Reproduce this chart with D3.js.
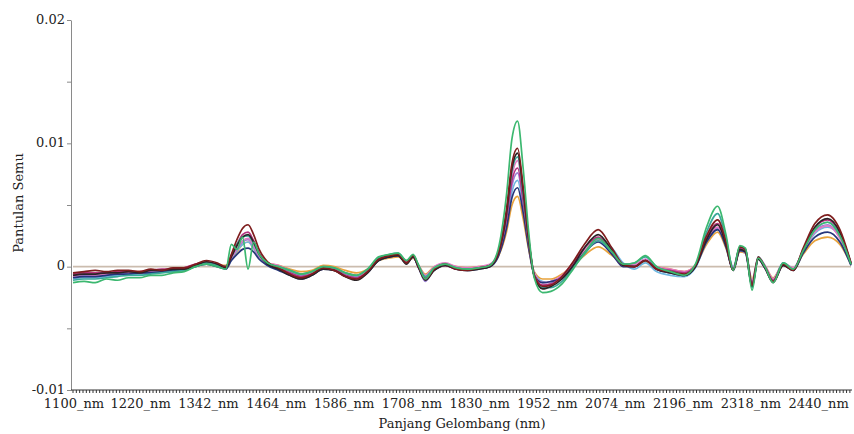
<!DOCTYPE html>
<html>
<head>
<meta charset="utf-8">
<script src="https://cdn.jsdelivr.net/npm/d3@7"></script>
<style>
  body { margin: 0; background: #fff; }
  svg { display: block; }
</style>
</head>
<body>
<svg id="chart" width="854" height="434"></svg>
<script>
const wavelengths = [1100,1120,1140,1160,1180,1200,1220,1240,1260,1280,1300,1320,1340,1360,1375,1385,1395,1405,1415,1425,1435,1450,1470,1490,1510,1530,1550,1570,1590,1610,1630,1650,1670,1685,1700,1712,1722,1734,1750,1770,1790,1810,1830,1850,1865,1880,1890,1900,1910,1920,1930,1945,1960,1980,2000,2020,2045,2070,2090,2110,2130,2150,2175,2200,2220,2240,2260,2275,2288,2300,2310,2322,2333,2345,2360,2378,2396,2414,2435,2458,2480,2500];

// values in units of 0.001
const orangeSeries = [-0.7,-0.6,-0.6,-0.5,-0.5,-0.4,-0.4,-0.3,-0.3,-0.2,-0.1,0.1,0.3,0.1,0.1,0.6,1.2,1.8,2.0,1.5,0.8,0.3,0.1,-0.2,-0.4,-0.3,0.1,0.0,-0.3,-0.5,-0.2,0.5,0.7,0.8,0.4,0.7,0.1,-0.6,0.0,0.2,0.0,-0.1,0.0,0.1,0.8,2.8,5.0,5.7,3.9,1.4,-0.4,-1.0,-1.0,-0.6,0.1,0.9,1.6,0.9,0.2,0.1,0.4,0.0,-0.2,-0.4,0.1,1.8,2.8,1.5,-0.1,1.2,1.1,-1.0,0.6,0.1,-0.9,0.2,-0.1,1.0,2.1,2.4,1.8,0.2];
const lightBlueSeries = [-1.0,-0.9,-0.9,-0.8,-0.7,-0.6,-0.6,-0.5,-0.4,-0.4,-0.2,0.1,0.2,0.0,-0.1,0.6,1.3,1.8,2.0,1.5,0.8,0.2,-0.1,-0.4,-0.7,-0.5,-0.1,-0.2,-0.6,-0.8,-0.3,0.5,0.8,0.9,0.3,0.8,0.0,-0.8,-0.1,0.2,-0.1,-0.2,-0.1,0.0,0.9,3.4,6.1,7.0,4.8,1.8,-0.5,-1.2,-1.3,-0.9,0.0,1.1,2.3,1.5,0.3,-0.2,0.3,-0.4,-0.7,-0.8,-0.1,2.0,3.0,1.8,0.0,1.5,1.4,-1.2,0.8,0.1,-1.0,0.3,-0.1,1.2,2.7,3.2,2.4,0.3];
const purpleSeries = [-0.8,-0.7,-0.7,-0.6,-0.6,-0.5,-0.5,-0.4,-0.3,-0.3,-0.2,0.1,0.3,0.1,-0.1,0.7,1.4,2.0,2.2,1.6,0.8,0.2,-0.1,-0.5,-0.8,-0.6,-0.2,-0.2,-0.7,-0.9,-0.4,0.6,0.8,0.9,0.3,0.8,-0.1,-1.2,-0.2,0.2,-0.1,-0.2,-0.1,0.1,1.0,3.7,6.6,7.6,5.2,1.8,-0.6,-1.3,-1.2,-0.8,0.2,1.2,2.1,1.1,0.1,0.1,0.6,-0.1,-0.3,-0.5,0.1,2.1,3.1,1.7,-0.3,1.3,1.1,-1.6,0.6,-0.1,-1.2,0.2,-0.2,1.3,2.9,3.4,2.4,0.2];
const pinkSeries = [-0.8,-0.6,-0.7,-0.6,-0.5,-0.4,-0.5,-0.3,-0.3,-0.2,-0.1,0.2,0.3,0.1,0.0,0.7,1.5,2.1,2.3,1.7,0.9,0.3,0.1,-0.3,-0.6,-0.5,0.0,-0.1,-0.5,-0.7,-0.3,0.6,0.8,0.9,0.4,0.8,0.1,-0.7,0.0,0.3,0.0,-0.1,0.0,0.2,1.1,4.2,7.4,8.6,5.8,2.1,-0.5,-1.3,-1.2,-0.7,0.3,1.3,2.2,1.1,0.2,0.2,0.6,0.0,-0.2,-0.4,0.1,2.1,3.2,1.7,-0.1,1.4,1.2,-1.2,0.7,0.1,-1.0,0.3,-0.1,1.2,2.8,3.3,2.3,0.2];
const navySeries = [-0.9,-0.8,-0.8,-0.7,-0.6,-0.6,-0.5,-0.5,-0.4,-0.3,-0.3,0.0,0.2,0.0,-0.2,0.5,1.0,1.4,1.5,1.2,0.6,0.1,-0.3,-0.7,-1.0,-0.7,-0.2,-0.3,-0.8,-1.0,-0.5,0.5,0.8,0.9,0.3,0.8,-0.1,-1.0,-0.3,0.1,-0.2,-0.3,-0.2,0.0,0.8,3.1,5.6,6.4,4.4,1.5,-0.7,-1.3,-1.2,-0.9,0.0,1.1,2.0,1.0,0.0,0.0,0.5,-0.2,-0.5,-0.7,0.0,2.0,3.0,1.6,-0.3,1.3,1.2,-1.4,0.6,-0.1,-1.2,0.1,-0.3,1.1,2.4,2.8,2.0,0.1];
const magentaSeries = [-0.6,-0.5,-0.5,-0.5,-0.4,-0.4,-0.4,-0.3,-0.2,-0.2,-0.1,0.2,0.4,0.2,0.0,0.9,1.8,2.6,2.8,2.1,1.1,0.3,-0.1,-0.5,-0.8,-0.6,-0.1,-0.2,-0.7,-0.9,-0.4,0.6,0.9,1.0,0.4,0.9,0.0,-0.9,-0.2,0.1,-0.2,-0.2,-0.1,0.1,1.0,3.9,7.0,8.0,5.4,1.9,-0.7,-1.5,-1.4,-0.8,0.3,1.5,2.4,1.2,0.1,0.0,0.5,-0.1,-0.3,-0.5,0.1,2.3,3.5,1.9,-0.2,1.5,1.3,-1.4,0.7,0.0,-1.1,0.2,-0.2,1.4,3.2,3.8,2.7,0.3];
const tealSeries = [-1.1,-1.0,-1.0,-0.9,-0.8,-0.7,-0.7,-0.6,-0.5,-0.4,-0.3,0.0,0.3,0.1,0.0,0.9,1.8,2.4,2.5,1.9,1.0,0.3,0.0,-0.3,-0.6,-0.4,0.0,-0.1,-0.5,-0.7,-0.2,0.7,1.0,1.1,0.5,0.9,0.1,-0.8,-0.1,0.2,-0.1,-0.2,-0.1,0.1,1.2,4.4,7.8,8.9,6.0,2.1,-0.7,-1.7,-1.7,-1.2,-0.1,1.0,2.1,1.2,0.2,0.3,0.8,0.0,-0.4,-0.6,0.1,2.8,4.3,2.3,-0.2,1.6,1.4,-1.7,0.7,0.0,-1.2,0.3,-0.2,1.3,3.0,3.6,2.6,0.2];
const blackSeries = [-0.7,-0.6,-0.6,-0.5,-0.5,-0.4,-0.5,-0.3,-0.3,-0.2,-0.2,0.1,0.4,0.2,-0.1,0.8,1.7,2.4,2.6,2.0,1.0,0.2,-0.2,-0.7,-1.0,-0.7,-0.2,-0.3,-0.8,-1.1,-0.5,0.5,0.8,0.9,0.2,0.8,-0.1,-1.1,-0.3,0.1,-0.2,-0.3,-0.2,0.0,1.0,4.3,8.0,9.2,6.2,2.2,-0.8,-1.8,-1.6,-1.0,0.1,1.5,2.6,1.3,0.1,0.0,0.5,-0.2,-0.5,-0.7,0.0,2.2,3.4,1.8,-0.3,1.4,1.2,-1.6,0.6,-0.1,-1.3,0.1,-0.3,1.3,3.2,3.9,2.8,0.2];
const darkRedSeries = [-0.5,-0.4,-0.3,-0.4,-0.3,-0.3,-0.4,-0.2,-0.3,-0.1,-0.1,0.2,0.5,0.3,0.0,1.0,2.2,3.1,3.4,2.6,1.4,0.4,-0.1,-0.6,-0.9,-0.6,-0.1,-0.3,-0.8,-1.0,-0.4,0.6,0.9,1.0,0.3,0.9,0.0,-1.0,-0.2,0.2,-0.2,-0.3,-0.1,0.1,1.1,4.6,8.4,9.6,6.5,2.3,-0.7,-1.6,-1.5,-0.8,0.4,1.8,3.0,1.5,0.2,0.0,0.5,-0.2,-0.4,-0.6,0.1,2.5,3.8,2.0,-0.3,1.6,1.4,-1.5,0.8,0.0,-1.2,0.2,-0.3,1.5,3.5,4.2,3.0,0.3];
const greenSeries = [-1.3,-1.2,-1.3,-1.0,-1.1,-0.9,-0.9,-0.7,-0.7,-0.5,-0.4,0.0,0.2,0.0,-0.2,1.8,1.4,2.4,-0.2,2.0,1.0,0.3,0.0,-0.3,-0.6,-0.4,0.0,-0.1,-0.5,-0.7,-0.2,0.8,1.0,1.1,0.5,1.0,0.1,-1.0,-0.1,0.2,-0.1,-0.2,-0.1,0.1,1.4,5.8,10.4,11.8,8.0,2.8,-0.9,-2.1,-2.0,-1.4,-0.2,1.1,2.3,1.2,0.2,0.3,0.9,0.0,-0.4,-0.7,0.2,3.2,4.9,2.6,-0.3,1.7,1.5,-1.9,0.7,0.0,-1.3,0.3,-0.2,1.3,3.0,3.6,2.5,0.2];

const seriesList = [orangeSeries, lightBlueSeries, purpleSeries, pinkSeries, navySeries, magentaSeries, tealSeries, blackSeries, darkRedSeries, greenSeries];
const seriesColors = ["#e8a33d", "#6fb7e0", "#9b7fd4", "#e27ac4", "#26357a", "#b5307e", "#3aa89a", "#2b2326", "#7e1d1d", "#3cb870"];

const xTicks = [1100, 1220, 1342, 1464, 1586, 1708, 1830, 1952, 2074, 2196, 2318, 2440];
const yTicks = [-10, -5, 0, 5, 10, 15, 20];
const yTickLabels = { "-10": "-0.01", "0": "0", "10": "0.01", "20": "0.02" };

const svg = d3.select("#chart");
const font = "DejaVu Serif";
const fontSize = "13px";

const x = d3.scaleLinear().domain([1100, 2500]).range([73, 851]);
const y = d3.scaleLinear().domain([-10, 20]).range([390, 20]);

// zero reference line
svg.append("line")
  .attr("x1", x(1100)).attr("x2", x(2500))
  .attr("y1", y(0)).attr("y2", y(0))
  .attr("stroke", "#cbbcae")
  .attr("stroke-width", 1.6);

const line = d3.line()
  .x((d, i) => x(wavelengths[i]))
  .y(d => y(d))
  .curve(d3.curveMonotoneX);

svg.append("g").selectAll("path")
  .data(seriesList)
  .enter().append("path")
  .attr("d", line)
  .attr("fill", "none")
  .attr("stroke", (d, i) => seriesColors[i])
  .attr("stroke-width", 1.7)
  .attr("stroke-linejoin", "round");

// y axis
const yAxis = svg.append("g")
  .attr("transform", "translate(71,0)")
  .call(d3.axisLeft(y).tickValues(yTicks).tickSize(4).tickSizeOuter(0)
    .tickFormat(d => yTickLabels[d] || ""));
yAxis.attr("font-family", font).attr("font-size", fontSize);
yAxis.select(".domain").attr("stroke", "#8a8a8a");
yAxis.selectAll(".tick line").attr("stroke", "#8a8a8a");
yAxis.selectAll("text")
  .attr("fill", "#222")
  .attr("x", -6).attr("dy", "0.25em");

// x axis: dense minor ticks + labelled ticks
const xAxisG = svg.append("g").attr("transform", "translate(0,390)")
  .attr("font-family", font).attr("font-size", fontSize);
xAxisG.append("line")
  .attr("x1", 71).attr("x2", 852)
  .attr("stroke", "#333").attr("stroke-width", 1);
xAxisG.selectAll("line.minor")
  .data(d3.range(1100, 2501, 6))
  .enter().append("line")
  .attr("class", "minor")
  .attr("x1", d => x(d)).attr("x2", d => x(d))
  .attr("y1", 0).attr("y2", 3)
  .attr("stroke", "#333").attr("stroke-width", 1);
xAxisG.selectAll("text")
  .data(xTicks)
  .enter().append("text")
  .attr("x", d => x(d) + 1)
  .attr("y", 18)
  .attr("text-anchor", "middle")
  .attr("fill", "#222")
  .text(d => d + "_nm");

// axis titles
svg.append("text")
  .attr("x", 462).attr("y", 428)
  .attr("text-anchor", "middle")
  .attr("font-family", font).attr("font-size", fontSize).attr("fill", "#222")
  .text("Panjang Gelombang (nm)");

svg.append("text")
  .attr("transform", "translate(23,203) rotate(-90)")
  .attr("text-anchor", "middle")
  .attr("font-family", font).attr("font-size", fontSize).attr("fill", "#222")
  .text("Pantulan Semu");
</script>
</body>
</html>
